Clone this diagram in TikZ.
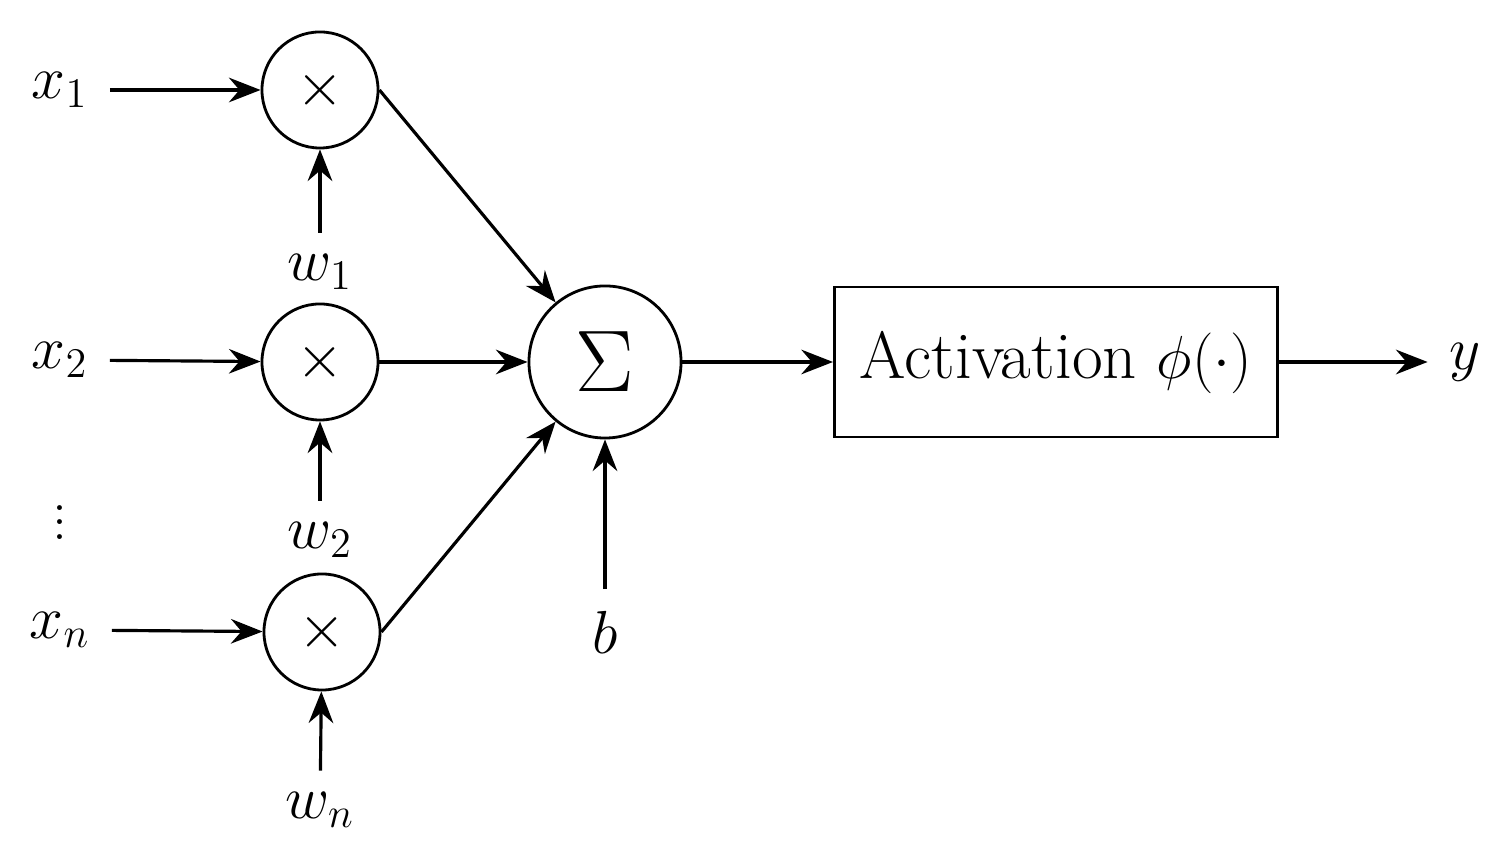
\documentclass[tikz,border=0pt]{standalone}
\usetikzlibrary{arrows.meta}
\begin{document}
\begin{tikzpicture}[x=0.01cm,y=-0.01cm,
  every node/.style={font=\fontsize{17}{20}\selectfont},
  mul/.style={circle,draw,line width=0.8pt,minimum size=1.16cm,inner sep=0pt},
  sum/.style={circle,draw,line width=0.8pt,minimum size=1.52cm,inner sep=0pt},
  act/.style={draw,line width=0.8pt,minimum width=4.43cm,minimum height=1.5cm,font=\fontsize{19}{22}\selectfont},
  lab/.style={inner sep=6pt},
  arr/.style={-{Stealth[length=9pt,width=7pt,inset=3pt]},line width=0.9pt}]
\useasboundingbox (0,0) rectangle (1509,865);
\node[lab] (x1) at (60,90) {$x_1$};
\node[lab] (x2) at (60,360) {$x_2$};
\node (dots) at (60,512) {$\vdots$};
\node[lab] (xn) at (60,630) {$x_n$};
\node[mul] (m1) at (320,90) {$\times$};
\node[mul] (m2) at (320,362) {$\times$};
\node[mul] (mn) at (322,632) {$\times$};
\node[lab] (w1) at (320,272) {$w_1$};
\node[lab] (w2) at (320,540) {$w_2$};
\node[lab] (wn) at (320,810) {$w_n$};
\node[sum] (s) at (605,362) {\fontsize{26}{30}\selectfont$\Sigma$};
\node[lab] (b) at (605,632) {$b$};
\node[act] (a) at (1056,362) {Activation $\phi(\cdot)$};
\node[lab] (y) at (1465,362) {$y$};
\draw[arr] (x1) -- (m1);
\draw[arr] (x2) -- (m2);
\draw[arr] (xn) -- (mn);
\draw[arr] (w1) -- (m1);
\draw[arr] (w2) -- (m2);
\draw[arr] (wn) -- (mn);
\draw[arr] (m1.east) -- (s);
\draw[arr] (m2) -- (s);
\draw[arr] (mn.east) -- (s);
\draw[arr] (b) -- (s);
\draw[arr] (s) -- (a);
\draw[arr] (a) -- (y);
\end{tikzpicture}
\end{document}
